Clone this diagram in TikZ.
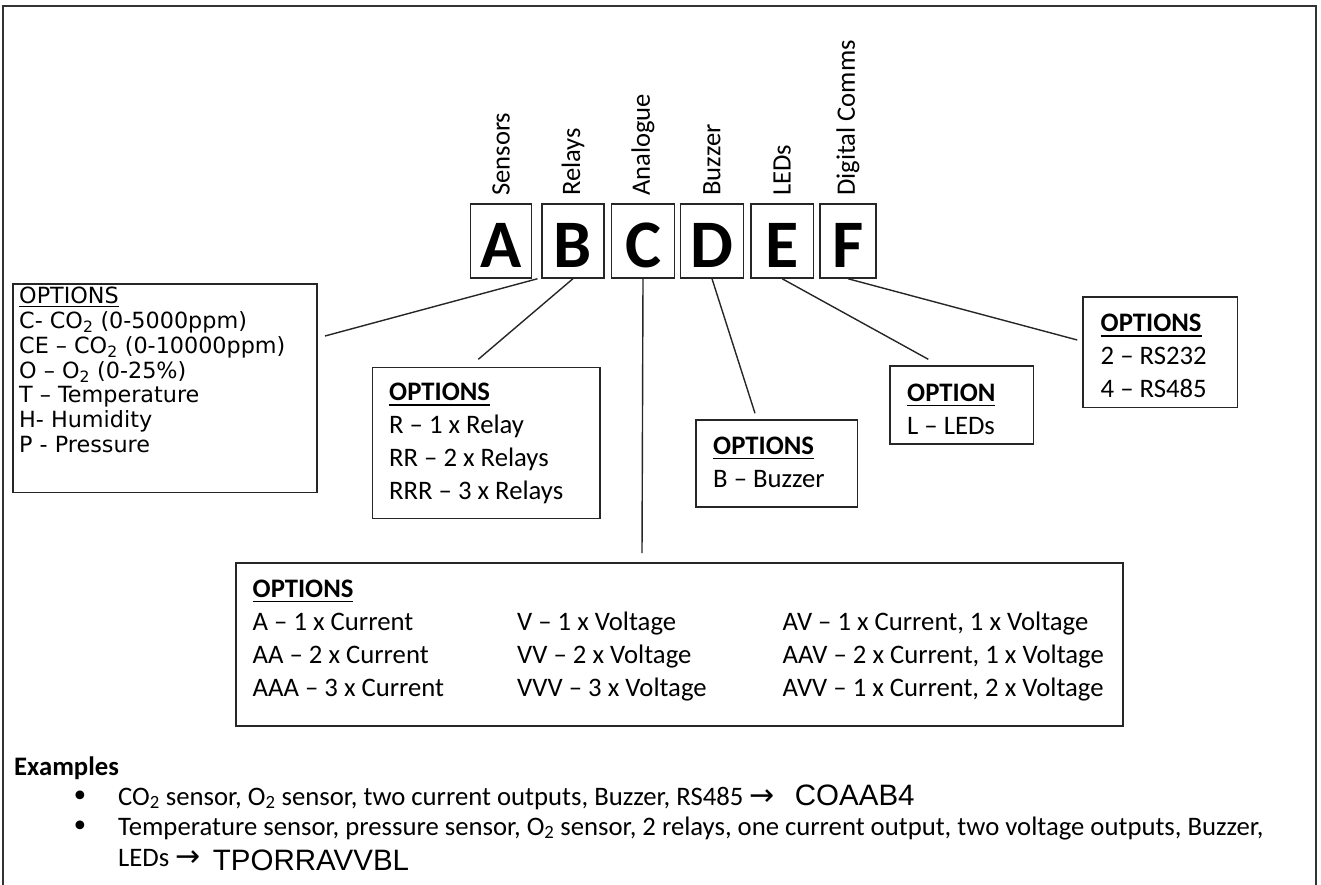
\documentclass[tikz,border=0pt]{standalone}
\usepackage{fontspec}
\setmainfont{Carlito}
\newfontfamily\verdfont{DejaVu Sans}
\newfontfamily\arialfont{Liberation Sans}
\usetikzlibrary{positioning}
% underlined heading: #1 = drop of the rule below the baseline
\newcommand{\optul}[2][5pt]{\setbox0\hbox{#2}\rlap{\rule[-#1]{\wd0}{1.4pt}}\box0}

\begin{document}
\begin{tikzpicture}[x=1pt,y=-1pt,
  every node/.style={inner sep=0pt},
  letterbox/.style={draw=black!85, line width=1.5pt, minimum height=74pt,
    text height=52pt, text depth=0pt, font=\fontsize{68}{70}\selectfont\bfseries},
  optbox/.style={draw=black!85, line width=1.5pt, anchor=north west},
  opttext/.style={anchor=base west, align=left, font=\fontsize{26.7}{33}\selectfont},
  wire/.style={draw=black!85, line width=1.4pt}]
\useasboundingbox (0,0) rectangle (1321,885);
\draw[black!80, line width=1.8pt] (3,885) -- (3,6) -- (1316,6) -- (1316,885); % frame, open at the bottom

% edit here for the letter boxes and their titles
\foreach \l/\x/\w/\t in {A/501.2/61/Sensors, B/572.9/62.3/Relays, C/643/62.6/Analogue,
    D/712/62.6/Buzzer, E/782.2/62.3/LEDs, F/848/56/Digital Comms}
{
  \node[letterbox, minimum width=\w pt] (box\l) at (\x,241) {\l};
  \node[rotate=90, anchor=west, font=\fontsize{26.6}{30}\selectfont] (lab\l) at (\x,196) {\t};
}

% option boxes (text nodes sit on the baseline of their last line)
\node[optbox, minimum width=304pt, minimum height=208.4pt] (sensbox) at (12,283.3) {};
\node[opttext, font=\verdfont\fontsize{22.3}{24.9}\selectfont] (senstext) at (19,452.7)
  {\optul[3.8pt]{OPTIONS}\\ C- CO\textsubscript{2} (0-5000ppm)\\ CE – CO\textsubscript{2} (0-10000ppm)\\
   O – O\textsubscript{2} (0-25\%)\\ T – Temperature\\ H- Humidity\\ P - Pressure};

\node[optbox, minimum width=227.3pt, minimum height=151pt] (relbox) at (371.7,366.7) {};
\node[opttext] (reltext) at (389,499.7)
  {\optul{\textbf{OPTIONS}}\\ R – 1 x Relay\\ RR – 2 x Relays\\ RRR – 3 x Relays};

\node[optbox, minimum width=161.7pt, minimum height=86.7pt] (buzbox) at (695,419.3) {};
\node[opttext] (buztext) at (713,487) {\optul{\textbf{OPTIONS}}\\ B – Buzzer};

\node[optbox, minimum width=143.7pt, minimum height=78.3pt] (ledbox) at (889,365) {};
\node[opttext] (ledtext) at (907,434) {\optul{\textbf{OPTION}}\\ L – LEDs};

\node[optbox, minimum width=154.4pt, minimum height=110.7pt] (combox) at (1082.3,296) {};
\node[opttext] (comtext) at (1100.5,397.7) {\optul{\textbf{OPTIONS}}\\ 2 – RS232\\ 4 – RS485};

\node[optbox, minimum width=887pt, minimum height=162.7pt] (anabox) at (235,562.3) {};
\node[opttext] (anacola) at (252.5,696)
  {\optul{\textbf{OPTIONS}}\\ A – 1 x Current\\ AA – 2 x Current\\ AAA – 3 x Current};
\node[opttext] (anacolv) at (517,696) {V – 1 x Voltage\\ VV – 2 x Voltage\\ VVV – 3 x Voltage};
\node[opttext] (anacolav) at (782.5,696)
  {AV – 1 x Current, 1 x Voltage\\ AAV – 2 x Current, 1 x Voltage\\ AVV – 1 x Current, 2 x Voltage};

% connectors
\coordinate (sensend) at (325,336);
\coordinate (relend) at (478.3,359.3);
\coordinate (anaend) at (642,553);
\coordinate (buzend) at (755,413.3);
\coordinate (ledend) at (928.3,359.3);
\coordinate (comend) at (1077.3,340);
\draw[wire] (sensend) -- ([xshift=5pt]boxA.south east);
\draw[wire] (boxB.south) -- (relend);
\draw[wire] (boxC.south) -- (anaend);
\draw[wire] (boxD.south) -- (buzend);
\draw[wire] (boxE.south) -- (ledend);
\draw[wire] (boxF.south) -- (comend);

% examples
\node[opttext, font=\fontsize{26.7}{33}\selectfont\bfseries] (exhead) at (14,775) {Examples};
\node[anchor=base, font=\verdfont\fontsize{30}{32}\selectfont] (bulA) at (80,806) {•};
\node[anchor=base, font=\verdfont\fontsize{30}{32}\selectfont] (bulB) at (80,836) {•};
\node[opttext] (exA) at (118,805)
  {CO\textsubscript{2} sensor, O\textsubscript{2} sensor, two current outputs, Buzzer, RS485 {\verdfont\fontsize{30}{32}\selectfont →}};
\node[right=20pt of exA.base east, anchor=base west, font=\arialfont\fontsize{29.5}{32}\selectfont] (codeA) {COAAB4};
\node[opttext] (exB) at (118,835)
  {Temperature sensor, pressure sensor, O\textsubscript{2} sensor, 2 relays, one current output, two voltage outputs, Buzzer,};
\node[opttext] (exC) at (118,866) {LEDs {\verdfont\fontsize{30}{32}\selectfont →}};
\node[right=12pt of exC.base east, anchor=base west, yshift=-4pt, font=\arialfont\fontsize{29.5}{32}\selectfont] (codeB) {TPORRAVVBL};
\end{tikzpicture}
\end{document}
